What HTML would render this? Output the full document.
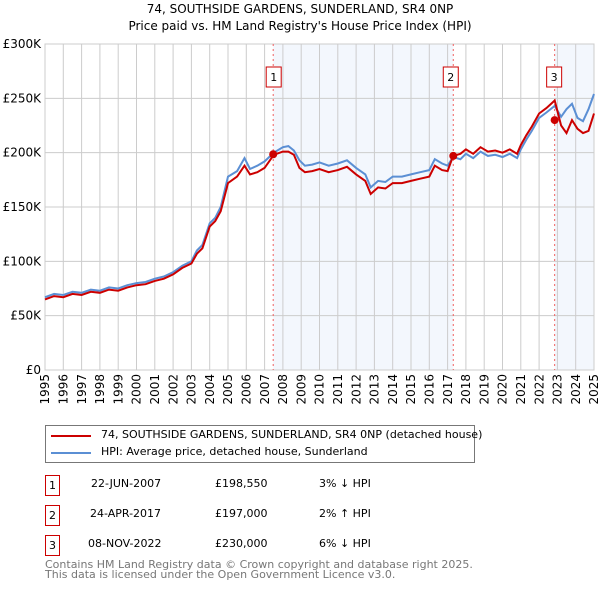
<!DOCTYPE html>
<html><head><meta charset="utf-8"><style>
body{margin:0;background:#fff;font-family:"DejaVu Sans","Liberation Sans",sans-serif;}
#wrap{position:relative;width:600px;height:590px;overflow:hidden;}
.t{position:absolute;font-size:11px;color:#000;white-space:nowrap;}
.box{position:absolute;width:13px;height:19px;border:1px solid #c00;font-size:11px;text-align:center;line-height:19px;}
</style></head><body>
<div id="wrap">
<svg id="chart" width="600" height="420" style="position:absolute;left:0;top:0">
<text x="300" y="13" text-anchor="middle" font-size="12" font-family="DejaVu Sans, sans-serif">74, SOUTHSIDE GARDENS, SUNDERLAND, SR4 0NP</text>
<text x="300" y="30" text-anchor="middle" font-size="12" font-family="DejaVu Sans, sans-serif">Price paid vs. HM Land Registry's House Price Index (HPI)</text>
</svg>
<div style="position:absolute;left:45px;top:425px;width:428px;height:36px;border:1px solid #777;">
 <div style="position:absolute;left:5px;top:9px;width:40px;height:2px;background:#c00"></div>
 <div class="t" style="left:55px;top:2px">74, SOUTHSIDE GARDENS, SUNDERLAND, SR4 0NP (detached house)</div>
 <div style="position:absolute;left:5px;top:26px;width:40px;height:2px;background:#5b8fd4"></div>
 <div class="t" style="left:55px;top:19px">HPI: Average price, detached house, Sunderland</div>
</div>
<div class="box" style="left:45px;top:475px">1</div>
<div class="t" style="left:91px;top:477px">22-JUN-2007</div>
<div class="t" style="left:215px;top:477px">£198,550</div>
<div class="t" style="left:319px;top:477px">3% ↓ HPI</div>
<div class="box" style="left:45px;top:505px">2</div>
<div class="t" style="left:90px;top:507px">24-APR-2017</div>
<div class="t" style="left:215px;top:507px">£197,000</div>
<div class="t" style="left:319px;top:507px">2% ↑ HPI</div>
<div class="box" style="left:45px;top:535px">3</div>
<div class="t" style="left:88px;top:537px">08-NOV-2022</div>
<div class="t" style="left:215px;top:537px">£230,000</div>
<div class="t" style="left:319px;top:537px">6% ↓ HPI</div>
<div class="t" style="left:45px;top:560px;color:#777;line-height:10px">Contains HM Land Registry data © Crown copyright and database right 2025.<br>This data is licensed under the Open Government Licence v3.0.</div>
</div>
<script>
const yearTicks=[1995,1996,1997,1998,1999,2000,2001,2002,2003,2004,2005,2006,2007,2008,2009,2010,2011,2012,2013,2014,2015,2016,2017,2018,2019,2020,2021,2022,2023,2024,2025];
const priceTicks=[0,50,100,150,200,250,300];
const priceTickLabels=["£0","£50K","£100K","£150K","£200K","£250K","£300K"];
const hpiYears=[1995,1995.5,1996,1996.5,1997,1997.5,1998,1998.5,1999,1999.5,2000,2000.5,2001,2001.5,2002,2002.5,2003,2003.3,2003.6,2004,2004.3,2004.6,2005,2005.5,2005.9,2006.2,2006.6,2007,2007.5,2008,2008.3,2008.6,2008.9,2009.2,2009.6,2010,2010.5,2011,2011.5,2012,2012.5,2012.8,2013.2,2013.6,2014,2014.5,2015,2015.5,2016,2016.3,2016.7,2017,2017.3,2017.7,2018,2018.4,2018.8,2019.2,2019.6,2020,2020.4,2020.8,2021,2021.3,2021.6,2022,2022.4,2022.85,2023.2,2023.5,2023.8,2024.1,2024.4,2024.7,2025];
const hpiValues=[67,70,69,72,71,74,73,76,75,78,80,81,84,86,90,96,100,110,115,135,140,150,178,183,195,185,188,192,200,205,206,202,193,188,189,191,188,190,193,186,180,168,174,173,178,178,180,182,184,194,190,188,196,194,199,195,201,197,198,196,199,195,203,212,220,232,237,243,233,240,245,232,229,240,254];
const paidValues=[65,68,67,70,69,72,71,74,73,76,78,79,82,84,88,94,98,107,112,132,137,146,172,178,188,180,182,186,198,201,201,198,186,182,183,185,182,184,187,180,174,162,168,167,172,172,174,176,178,188,184,183,197,199,203,199,205,201,202,200,203,199,207,216,224,236,241,248,225,218,230,222,218,220,236];
const saleYears=[2007.47,2017.31,2022.85];
const salePrices=[198.55,197,230];
const saleLabels=["1","2","3"];
const NS="http://www.w3.org/2000/svg";
const svg=document.getElementById('chart');
const L=45,R=594,T=44,B=370;
const x=v=>L+(v-1995)/(2025-1995)*(R-L);
const y=v=>B-v/300*(B-T);
function mk(tag,attrs){const e=document.createElementNS(NS,tag);for(const k in attrs)e.setAttribute(k,attrs[k]);svg.appendChild(e);return e;}
let e;
e=mk('rect',{x:L,y:T,width:R-L,height:B-T,fill:'#fff',stroke:'#ccc'});


e=mk('rect',{x:x(saleYears[0]),y:T,width:x(saleYears[1])-x(saleYears[0]),height:B-T,fill:'#eef3fc',opacity:0.7});


e=mk('rect',{x:x(saleYears[2]),y:T,width:R-x(saleYears[2]),height:B-T,fill:'#eef3fc',opacity:0.7});


yearTicks.forEach(yr=>{
 e=mk('line',{x1:x(yr),x2:x(yr),y1:T,y2:B,stroke:'#ccc','stroke-width':1});
 
 
 e=mk('text',{x:x(yr),y:B+4,'font-size':12,'text-anchor':'end','font-family':'DejaVu Sans, sans-serif',transform:`rotate(-90 ${x(yr)} ${B+4})`,dy:'0.35em'});
 e.textContent=yr;
 
 
});
priceTicks.forEach((p,i)=>{
 e=mk('line',{x1:L,x2:R,y1:y(p),y2:y(p),stroke:'#ccc','stroke-width':1});
 
 
 e=mk('text',{x:L-4,y:y(p)+4,'font-size':12,'text-anchor':'end','font-family':'DejaVu Sans, sans-serif'});
 e.textContent=priceTickLabels[i];
 
 
});
saleYears.forEach((s,i)=>{
 e=mk('line',{x1:x(s),x2:x(s),y1:T,y2:B,stroke:'#f06060','stroke-dasharray':'2,3','stroke-width':1});
 
 
});
const pts=(ys)=>hpiYears.map((yr,i)=>x(yr).toFixed(1)+','+y(ys[i]).toFixed(1)).join(' ');
e=mk('polyline',{points:pts(hpiValues),fill:'none',stroke:'#5b8fd4','stroke-width':2});


e=mk('polyline',{points:pts(paidValues),fill:'none',stroke:'#cc0000','stroke-width':2});


saleYears.forEach((s,i)=>{
 e=mk('circle',{cx:x(s),cy:y(salePrices[i]),r:4,fill:'#cc0000'});
 
 
 const bx=x(s)-8-(i==1?2:0)+(i==0?1:0);
 e=mk('rect',{x:bx,y:67,width:15,height:20,fill:'#fff',stroke:'#c00'});
 
 
 e=mk('text',{x:bx+7.5,y:81,'font-size':11,'text-anchor':'middle','font-family':'DejaVu Sans, sans-serif'});
 e.textContent=saleLabels[i];
 
 
});
</script>
</body></html>
